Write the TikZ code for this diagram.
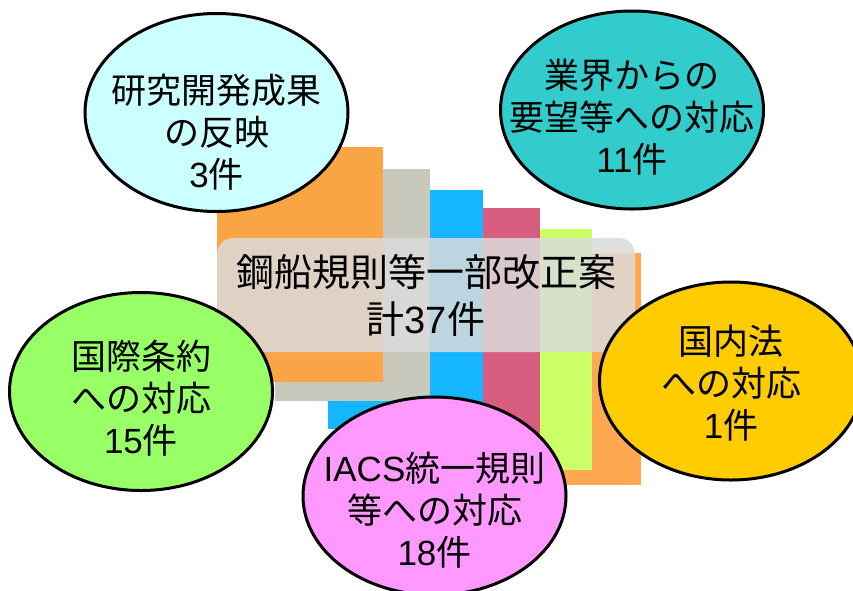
\documentclass[tikz,border=0pt]{standalone}
\usepackage{fontspec}
\setmainfont{Noto Sans CJK JP}
\newfontfamily\latinfont{Liberation Sans}
\newcommand{\lat}[1]{{\latinfont #1}}
\usetikzlibrary{shapes.geometric, positioning}

\definecolor{coverorange}{HTML}{F9A546}
\definecolor{covergray}{HTML}{C8C8BC}
\definecolor{coverblue}{HTML}{16B5FF}
\definecolor{coverpink}{HTML}{D65C80}
\definecolor{coverlime}{HTML}{CCFF66}
\definecolor{coverpeach}{HTML}{FFA852}
\definecolor{researchfill}{HTML}{CCFFFF}
\definecolor{industryfill}{HTML}{33CCCC}
\definecolor{treatyfill}{HTML}{99FF66}
\definecolor{domesticfill}{HTML}{FFCC00}
\definecolor{iacsfill}{HTML}{FF99FF}

\tikzset{
  topic/.style={ellipse, draw=black, line width=3pt, minimum width=263pt, minimum height=198pt, inner sep=0pt},
  topictext/.style={align=center, inner sep=0pt, font=\fontsize{35}{42}\selectfont},
  panel/.style={fill=black!14, fill opacity=0.85, text opacity=1, rounded corners=16pt, minimum width=418pt, minimum height=114pt, align=center, font=\fontsize{38}{47}\selectfont}
}

\begin{document}
\begin{tikzpicture}[x=1pt, y=-1pt]
  \clip (0,0) rectangle (853,590);
  \fill[white] (0,0) rectangle (853,590);

  % rule book covers, back to front
  \foreach \l/\t/\r/\b/\c in {486/253/641/485/coverpeach, 437/229/592/470/coverlime,
      385/208/540/460/coverpink, 328/190/483/429/coverblue, 275/169/430/401/covergray,
      217/147/383/382/coverorange}
    \fill[\c] (\l,\t) rectangle (\r,\b);

  % total in the middle
  \node[panel] (total) at (426,295) {鋼船規則等一部改正案\\計\lat{37}件};

  % sources of the amendments
  \node[topic, fill=researchfill] (research) at (216.5,112.5) {};
  \node[topic, fill=industryfill] (industry) at (632,110) {};
  \node[topic, fill=treatyfill] (treaty) at (141,391.5) {};
  \node[topic, fill=domesticfill] (domestic) at (731,381) {};
  \node[topic, fill=iacsfill] (iacs) at (434.5,496) {};

  \node[topictext] (research-txt) at ([yshift=-19.5pt]research.center) {研究開発成果\\の反映\\\lat{3}件};
  \node[topictext] (industry-txt) at ([yshift=-7pt]industry.center) {業界からの\\要望等への対応\\\lat{11}件};
  \node[topictext] (treaty-txt) at ([yshift=-6.5pt]treaty.center) {国際条約\\への対応\\\lat{15}件};
  \node[topictext] (domestic-txt) at ([yshift=-2pt]domestic.center) {国内法\\への対応\\\lat{1}件};
  \node[topictext] (iacs-txt) at ([yshift=-14pt]iacs.center) {\lat{IACS}統一規則\\等への対応\\\lat{18}件};
\end{tikzpicture}
\end{document}
